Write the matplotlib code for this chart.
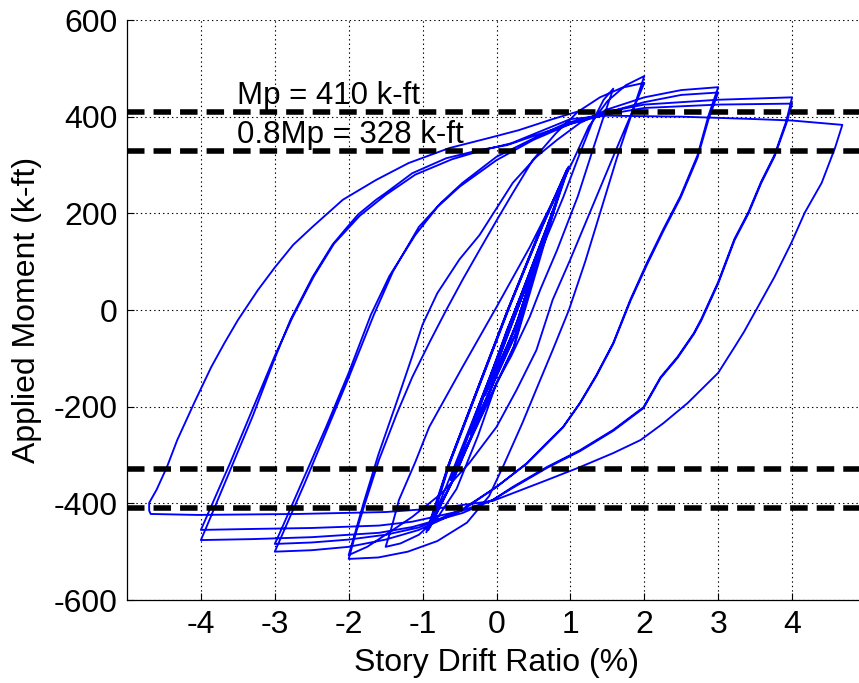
import matplotlib
matplotlib.use("Agg")
import matplotlib.pyplot as plt
import numpy as np

plt.rcParams['font.family'] = ['Liberation Sans', 'DejaVu Sans']
plt.rcParams['lines.scale_dashes'] = False

# ---------------- data (drift %, moment k-ft) ----------------
x_ticks = [-4, -3, -2, -1, 0, 1, 2, 3, 4]
y_ticks = [-600, -400, -200, 0, 200, 400, 600]
Mp = 410
Mp08 = 328

# small (nearly elastic) cycles: 0.375 %, 0.5 %, 0.75 %
drift_el = [0.25, 0.55, 0.22, -0.15, 0.26, 0.56, 0.21, -0.16, 0.25,
            0.65, 0.15, -0.35, 0.26, 0.66, 0.14, -0.36, 0.25,
            0.80, 0.12, -0.60, 0.24, 0.81, 0.11, -0.62, 0.23]
moment_el = [0, 110, -25, -175, -35, 112, -27, -177, -37,
             150, -40, -255, -50, 152, -42, -257, -52,
             220, -55, -350, -75, 222, -57, -352, -77]

# 1 % cycles (up branch / down branch, four cycles)
drift_c1 = [0.23, 0.70, 0.95, 0.60, 0.15, -0.30, -0.65, -0.95,
            -0.60, -0.20, 0.30, 0.70, 0.96, 0.61, 0.16, -0.29, -0.64, -0.93,
            -0.59, -0.19, 0.31, 0.71, 0.97, 0.62, 0.17, -0.28, -0.63, -0.90,
            -0.58, -0.18, 0.32, 0.72, 0.98, 0.63, 0.16, -0.29, -0.64, -0.92]
moment_c1 = [-77, 178, 290, 170, 0, -180, -320, -460,
             -355, -210, -15, 175, 292, 172, 2, -178, -318, -455,
             -352, -207, -13, 177, 295, 174, 4, -176, -316, -450,
             -350, -205, -11, 179, 297, 176, 3, -177, -317, -455]

# 1.5 % cycle
drift_r15 = [-0.92, -0.6, -0.3, 0.0, 0.3, 0.6, 0.9, 1.1, 1.3, 1.45, 1.58]
moment_r15 = [-455, -335, -220, -105, 10, 122, 232, 313, 390, 435, 458]
drift_u15 = [1.58, 1.45, 1.3, 1.1, 0.82, 0.6, 0.45, 0.2, 0.0, -0.25, -0.54, -0.8, -1.05, -1.3, -1.5]
moment_u15 = [458, 400, 330, 235, 124, 45, -14, -95, -151, -260, -370, -430, -465, -483, -490]

# 2 % cycles
drift_r2a = [-1.5, -1.42, -1.32, -1.1, -0.91, -0.46, 0.0, 0.45, 0.82, 1.04, 1.25, 1.5, 1.75, 2.0]
moment_r2a = [-490, -450, -393, -315, -242, -118, 6, 130, 242, 310, 380, 432, 465, 484]
drift_u2a = [2.0, 1.85, 1.63, 1.4, 1.2, 0.98, 0.76, 0.55, 0.35, 0.1, -0.1, -0.4, -0.8, -1.2, -1.6, -2.0]
moment_u2a = [484, 415, 315, 200, 100, 0, -83, -160, -234, -320, -385, -440, -478, -500, -512, -515]
drift_r2b = [-2.0, -1.92, -1.8, -1.59, -1.35, -1.14, -0.9, -0.68, -0.45, -0.23, 0.0, 0.22, 0.49, 0.8, 1.1, 1.4, 1.7, 2.0]
moment_r2b = [-515, -470, -410, -310, -215, -139, -65, 0, 65, 124, 185, 242, 310, 365, 410, 440, 460, 470]
drift_u2b = [2.0, 1.85, 1.6, 1.3, 1.0, 0.76, 0.54, 0.27, 0.0, -0.37, -0.74, -1.14, -1.46, -1.75, -2.0]
moment_u2b = [470, 415, 325, 215, 105, 21, -83, -166, -242, -317, -379, -428, -461, -490, -507]

# 3 % cycles
drift_r3a = [-2.0, -1.92, -1.8, -1.6, -1.35, -1.15, -1.0, -0.8, -0.5, -0.23, 0.0, 0.22, 0.54, 0.82, 1.13, 1.5, 2.0, 2.5, 3.0]
moment_r3a = [-507, -465, -400, -300, -190, -100, -30, 35, 105, 155, 210, 263, 317, 352, 387, 415, 440, 455, 461]
drift_u3a = [3.0, 2.87, 2.72, 2.49, 2.26, 2.04, 1.81, 1.58, 1.35, 1.13, 0.9, 0.68, 0.41, 0.0, -0.46, -1.05, -1.5, -2.0, -2.5, -3.0]
moment_u3a = [461, 403, 320, 236, 168, 99, 21, -68, -135, -192, -242, -275, -317, -366, -414, -455, -475, -490, -497, -500]
drift_r3b = [-3.0, -2.9, -2.6, -2.3, -2.0, -1.66, -1.4, -1.05, -0.75, -0.46, 0.0, 0.54, 0.95, 1.36, 2.0, 2.5, 3.0]
moment_r3b = [-500, -465, -360, -250, -140, -10, 80, 172, 222, 263, 317, 358, 387, 403, 430, 445, 450]
drift_u3b = [3.0, 2.87, 2.72, 2.49, 2.26, 2.04, 1.81, 1.58, 1.35, 1.13, 0.9, 0.68, 0.41, 0.0, -0.46, -1.05, -1.5, -2.0, -2.5, -3.0]
moment_u3b = [450, 395, 315, 232, 164, 95, 18, -70, -137, -193, -243, -277, -318, -366, -412, -450, -465, -475, -481, -484]

# 4 % cycles
drift_r4a = [-3.0, -2.9, -2.6, -2.3, -2.0, -1.7, -1.45, -1.1, -0.8, -0.5, 0.0, 0.5, 1.0, 1.5, 2.0, 3.0, 4.0]
moment_r4a = [-484, -450, -345, -240, -130, -10, 70, 155, 213, 255, 310, 352, 385, 410, 425, 435, 440]
drift_u4a = [4.0, 3.92, 3.76, 3.58, 3.41, 3.22, 3.0, 2.77, 2.67, 2.45, 2.22, 1.99, 1.58, 1.13, 0.68, 0.22, -0.05, -0.46, -1.14, -1.59, -2.5, -3.3, -4.0]
moment_u4a = [440, 390, 320, 265, 203, 147, 58, -19, -48, -97, -139, -201, -248, -290, -325, -366, -393, -420, -449, -461, -470, -474, -476]
drift_r4b = [-4.0, -3.9, -3.6, -3.3, -3.0, -2.79, -2.49, -2.22, -2.04, -1.87, -1.63, -1.5, -1.14, -0.68, -0.23, 0.14, 0.6, 1.0, 1.5, 2.0, 3.0, 4.0]
moment_r4b = [-476, -440, -330, -220, -100, -21, 68, 135, 168, 198, 228, 242, 283, 314, 331, 341, 365, 385, 405, 418, 425, 427]
drift_u4b = [4.0, 3.92, 3.76, 3.58, 3.41, 3.22, 3.0, 2.77, 2.67, 2.45, 2.22, 1.99, 1.58, 1.13, 0.68, 0.22, -0.05, -0.46, -1.14, -1.59, -2.5, -3.3, -4.0]
moment_u4b = [427, 385, 317, 262, 200, 144, 55, -22, -50, -99, -141, -203, -250, -292, -327, -368, -393, -415, -438, -446, -451, -453, -455]

# 4.7 % cycle and final reloading
drift_r47 = [-4.0, -3.9, -3.6, -3.3, -3.0, -2.76, -2.47, -2.2, -1.85, -1.5, -1.1, -0.6, -0.2, 0.2, 0.6, 1.0, 1.5, 2.5, 3.5, 4.0, 4.68]
moment_r47 = [-455, -420, -315, -205, -95, -15, 70, 137, 195, 238, 280, 312, 330, 345, 370, 395, 402, 400, 395, 392, 383]
drift_u47 = [4.68, 4.58, 4.40, 4.17, 3.99, 3.76, 3.55, 3.35, 3.22, 3.0, 2.59, 2.26, 1.95, 1.58, 1.13, 0.68, 0.22, -0.05, -0.78, -1.5, -2.68, -4.05, -4.68]
moment_u47 = [383, 335, 263, 201, 139, 68, 10, -45, -77, -130, -192, -234, -269, -296, -325, -352, -379, -395, -410, -418, -422, -424, -422]
drift_rend = [-4.70, -4.70, -4.6, -4.46, -4.32, -4.09, -3.86, -3.68, -3.5, -3.23, -3.0, -2.75, -2.49, -2.08, -1.63, -1.19, -0.64, -0.1, 0.3, 0.76, 1.13]
moment_rend = [-415, -399, -372, -325, -269, -192, -118, -68, -21, 41, 88, 135, 172, 228, 269, 304, 335, 356, 372, 395, 412]

segments = [
    (drift_el, moment_el), (drift_c1, moment_c1),
    (drift_r15, moment_r15), (drift_u15, moment_u15),
    (drift_r2a, moment_r2a), (drift_u2a, moment_u2a),
    (drift_r2b, moment_r2b), (drift_u2b, moment_u2b),
    (drift_r3a, moment_r3a), (drift_u3a, moment_u3a),
    (drift_r3b, moment_r3b), (drift_u3b, moment_u3b),
    (drift_r4a, moment_r4a), (drift_u4a, moment_u4a),
    (drift_r4b, moment_r4b), (drift_u4b, moment_u4b),
    (drift_r47, moment_r47), (drift_u47, moment_u47),
    (drift_rend, moment_rend),
]
drift_all = np.concatenate([np.asarray(d, float) for d, m in segments])
moment_all = np.concatenate([np.asarray(m, float) for d, m in segments])

# ---------------- figure ----------------
W, H = 859, 683
fig = plt.figure(figsize=(W / 100, H / 100), dpi=100)
ax = fig.add_axes([127 / W, (H - 600) / H, 739 / W, 580 / H])

ax.plot(drift_all, moment_all, color=(0, 0, 1), lw=1.35, zorder=3,
        solid_joinstyle='round')

for val in (Mp, Mp08, -Mp08, -Mp):
    ax.axhline(val, color='black', lw=4.0, dashes=(12.6, 6.5), zorder=4)

ax.text(-3.51, 426, 'Mp = 410 k-ft', fontsize=22.5, va='baseline', ha='left', zorder=5)
ax.text(-3.51, 345, '0.8Mp = 328 k-ft', fontsize=22.5, va='baseline', ha='left', zorder=5)

ax.set_xlim(-5, 5)
ax.set_ylim(-600, 600)
ax.set_xticks(x_ticks)
ax.set_yticks(y_ticks)
ax.set_xticklabels([str(v) for v in x_ticks])
ax.set_yticklabels([str(v) for v in y_ticks])
ax.tick_params(direction='in', length=5, width=0.8, labelsize=23, pad=7)
ax.grid(True, color='black', linestyle=(0, (1, 2.2)), lw=0.8)
ax.set_axisbelow(True)
ax.spines['top'].set_visible(False)
ax.spines['right'].set_visible(False)
ax.spines['left'].set_linewidth(0.9)
ax.spines['bottom'].set_linewidth(0.9)

ax.set_xlabel('Story Drift Ratio (%)', fontsize=23, labelpad=6)
ax.set_ylabel('Applied Moment (k-ft)', fontsize=23, labelpad=8)

fig.savefig('out.png', dpi=100)
